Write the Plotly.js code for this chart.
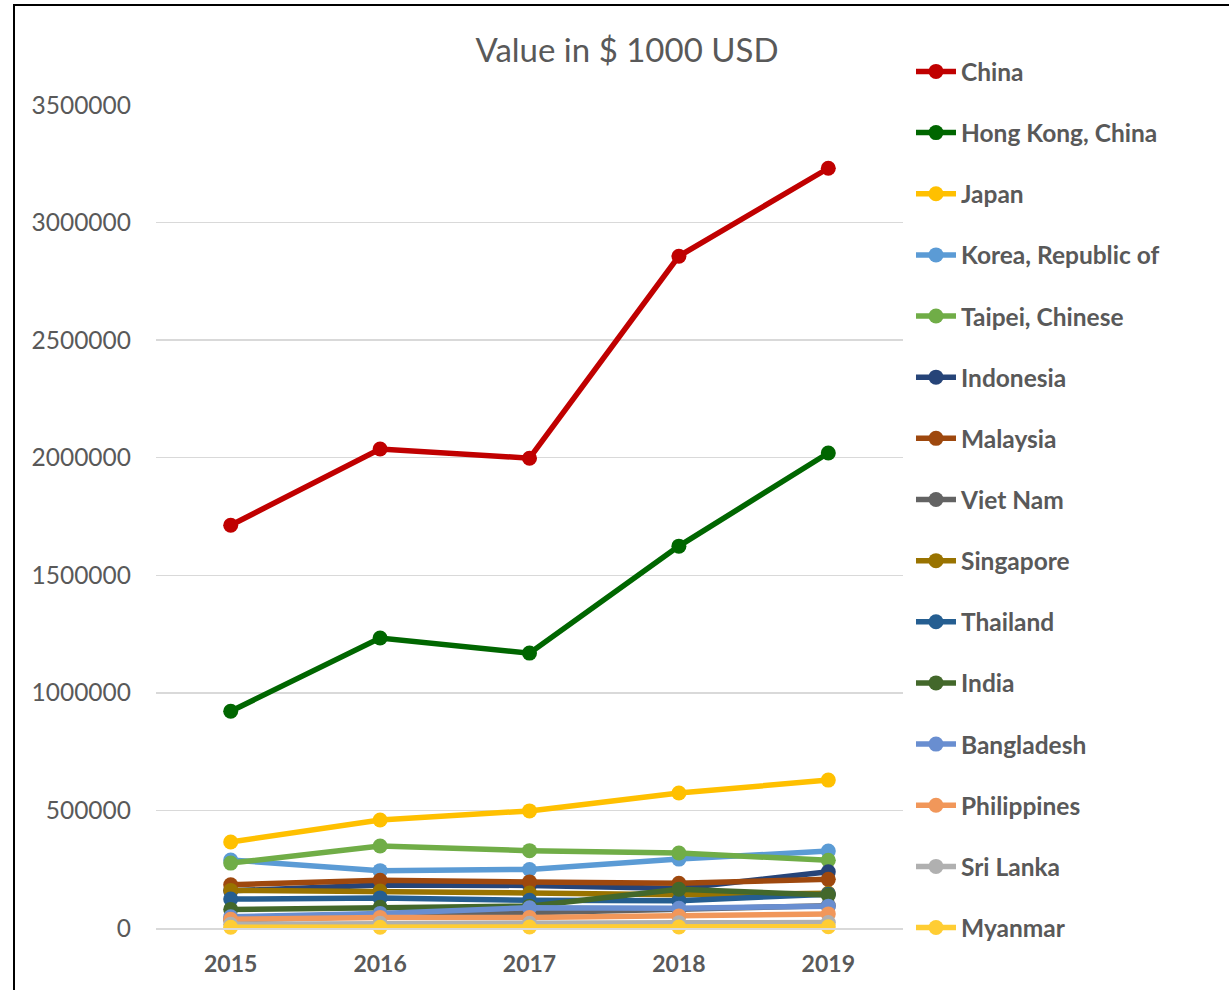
<!DOCTYPE html>
<html><head><meta charset="utf-8">
<script src="https://cdn.plot.ly/plotly-3.0.1.min.js"></script>
<style>html,body{margin:0;padding:0;background:#fff;overflow:hidden}
#frame{position:absolute;left:13px;top:4px;width:1300px;height:1100px;border:2px solid #000;pointer-events:none;box-sizing:border-box}
</style></head>
<body>
<div id="chart" style="width:1229px;height:990px;position:absolute;left:0;top:0"></div>
<div id="frame"></div>
<script>
const years = ['2015','2016','2017','2018','2019'];
const countries = ['China','Hong Kong, China','Japan','Korea, Republic of','Taipei, Chinese','Indonesia','Malaysia','Viet Nam','Singapore','Thailand','India','Bangladesh','Philippines','Sri Lanka','Myanmar'];
const china       = [1713000, 2037000, 1998000, 2857000, 3231000];
const hongKong    = [922000, 1233000, 1169000, 1624000, 2020000];
const japan       = [366000, 459000, 498000, 574000, 629000];
const korea       = [289000, 244000, 249000, 293000, 327000];
const taipei      = [276000, 349000, 329000, 319000, 288000];
const indonesia   = [158000, 183000, 181000, 168000, 239000];
const malaysia    = [184000, 203000, 196000, 190000, 207000];
const vietNam     = [35000, 50000, 66000, 80000, 95000];
const singapore   = [160000, 157000, 149000, 141000, 148000];
const thailand    = [123000, 128000, 118000, 116000, 144000];
const india       = [79000, 88000, 93000, 165000, 140000];
const bangladesh  = [48000, 62000, 86000, 84000, 93000];
const philippines = [37000, 45000, 45000, 51000, 60000];
const sriLanka    = [16000, 20000, 20000, 22000, 23000];
const myanmar     = [3000, 3000, 4000, 4000, 5000];

const seriesValues = [china, hongKong, japan, korea, taipei, indonesia, malaysia, vietNam, singapore, thailand, india, bangladesh, philippines, sriLanka, myanmar];
const colors = ['#C00000','#006600','#FFC000','#5B9BD5','#70AD47','#264478','#9E480E','#636363','#997300','#255E91','#43682B','#698ED0','#F1975A','#B0B0B0','#FFCD33'];

const traces = countries.map((c, i) => ({
  type: 'scatter', mode: 'lines+markers', name: c,
  x: years, y: seriesValues[i], legendgroup: 'g' + i,
  line: {color: colors[i], width: 5.5},
  marker: {color: colors[i], size: 15},
  cliponaxis: false
}));

const FF = 'Lato, "Noto Sans", sans-serif';
const layout = {
  width: 1229, height: 990,
  margin: {l: 156, r: 325.5, t: 105, b: 62},
  paper_bgcolor: '#fff', plot_bgcolor: '#fff',
  font: {family: FF, color: '#595959'},
  title: {text: 'Value in $ 1000 USD', font: {size: 33, color: '#595959', family: FF},
          xref: 'container', yref: 'container', x: 627/1229, xanchor: 'center', y: 1 - 50/990, yanchor: 'middle'},
  xaxis: {type: 'category', range: [-0.5, 4.5], showgrid: false, showline: true, linecolor: '#D9D9D9', linewidth: 1.5,
          ticks: '', tickfont: {size: 23, color: '#595959', family: FF, weight: 'bold'}, ticklabelstandoff: 15,
          zeroline: false, fixedrange: true},
  yaxis: {range: [0, 3500000], dtick: 500000, tick0: 0, showgrid: true, gridcolor: '#D9D9D9', gridwidth: 1.5,
          zeroline: false, showline: false, ticks: '', tickformat: 'd', ticklabelstandoff: 24,
          tickfont: {size: 24.5, color: '#595959'}, fixedrange: true},
  showlegend: true,
  legend: {x: 8/747.5 + 1.0, xanchor: 'left', y: 1 + 56/823, yanchor: 'top', tracegroupgap: 26.3,
           maxheight: 1000,
           font: {size: 24.5, color: '#595959', family: FF, weight: 'bold'},
           itemwidth: 40, bgcolor: 'rgba(0,0,0,0)'}
};

Plotly.newPlot('chart', traces, layout, {displayModeBar: false, staticPlot: true});
</script>
</body></html>
